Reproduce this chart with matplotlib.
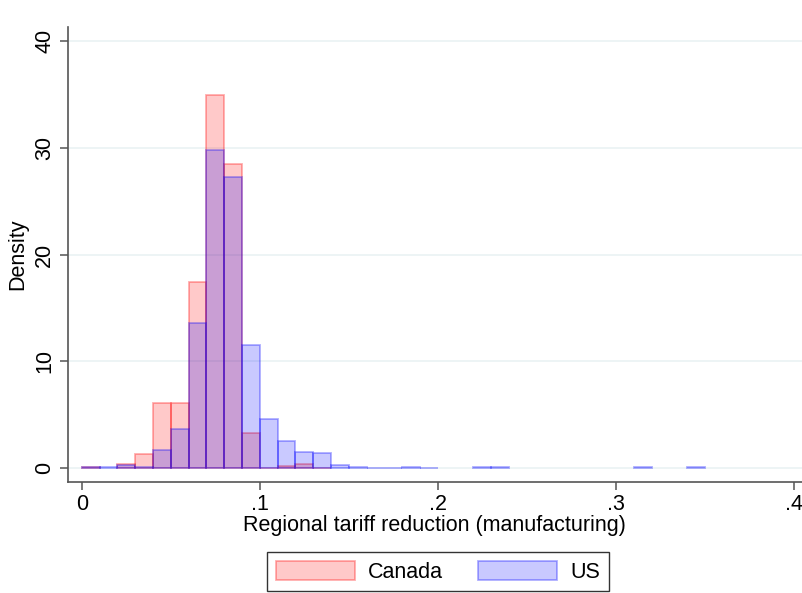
"""
Overlaid density histograms of regional tariff reduction, Canada vs US
Stata-like look: light grid, rotated y labels, boxed legend below
"""
import numpy as np
import matplotlib
matplotlib.use("Agg")
import matplotlib.pyplot as plt

BIN_WIDTH = 0.01
FS = 15.5

# density per bin, bins start at 0 and step by 0.01
canada = [0.1, 0.0, 0.45, 1.3, 6.15, 6.15, 17.45, 34.95, 28.5, 3.35,
          0.05, 0.25, 0.4, 0.05]
us = [0.1, 0.1, 0.28, 0.1, 1.7, 3.7, 13.6, 29.75, 27.3, 11.55,
      4.6, 2.55, 1.55, 1.45, 0.3, 0.15, 0.05, 0.05, 0.1, 0.05,
      0.0, 0.0, 0.1, 0.1, 0.0, 0.0, 0.0, 0.0, 0.0, 0.0,
      0.0, 0.1, 0.0, 0.0, 0.1]

xticks = [0, 0.1, 0.2, 0.3, 0.4]
xlabels = ["0", ".1", ".2", ".3", ".4"]
yticks = [0, 10, 20, 30, 40]

plt.rcParams['font.family'] = ['Liberation Sans', 'DejaVu Sans']

fig = plt.figure(figsize=(8.02, 5.93), dpi=100)
ax = fig.add_axes([0.0842, 0.1877, 0.9158, 0.767])

def draw_hist(values, face, edge, label):
    edges = np.arange(len(values)) * BIN_WIDTH
    keep = [i for i, v in enumerate(values) if v > 0]
    bars = ax.bar(edges[keep], [values[i] for i in keep], width=BIN_WIDTH,
                  align='edge', facecolor=face, edgecolor=edge,
                  linewidth=1.3, label=label, zorder=2)
    return bars

draw_hist(canada, (1, 0, 0, 0.21), (1, 0, 0, 0.32), "Canada")
draw_hist(us, (0, 0, 1, 0.21), (0, 0, 1, 0.32), "US")

ax.set_xlim(-0.008, 0.4045)
ax.set_ylim(-1.25, 41.3)
ax.set_xticks(xticks)
ax.set_xticklabels(xlabels)
ax.set_yticks(yticks)
ax.set_yticklabels([str(t) for t in yticks], rotation=90, va='center')

ax.grid(axis='y', color='#eaf2f3', linewidth=1.2, zorder=0)
ax.set_axisbelow(True)
for side in ['top', 'right']:
    ax.spines[side].set_visible(False)
for side in ['left', 'bottom']:
    ax.spines[side].set_color('#555555')
    ax.spines[side].set_linewidth(1.2)
ax.tick_params(direction='out', length=6, width=1.1, color='#555555',
               labelsize=FS, pad=3)

ax.set_xlabel("Regional tariff reduction (manufacturing)", fontsize=FS, labelpad=0)
ax.set_ylabel("Density", fontsize=FS, labelpad=4)

leg = fig.legend(*ax.get_legend_handles_labels(), loc='upper center',
                 bbox_to_anchor=(0.546, 1 - 552 / 593), ncol=2,
                 fontsize=FS, frameon=True, fancybox=False, borderaxespad=0,
                 handlelength=3.7, handleheight=1.0, columnspacing=1.6,
                 borderpad=0.4, handletextpad=0.6)
leg.get_frame().set_edgecolor('black')
leg.get_frame().set_linewidth(1.0)

fig.savefig("out.png", dpi=100, facecolor='white')
